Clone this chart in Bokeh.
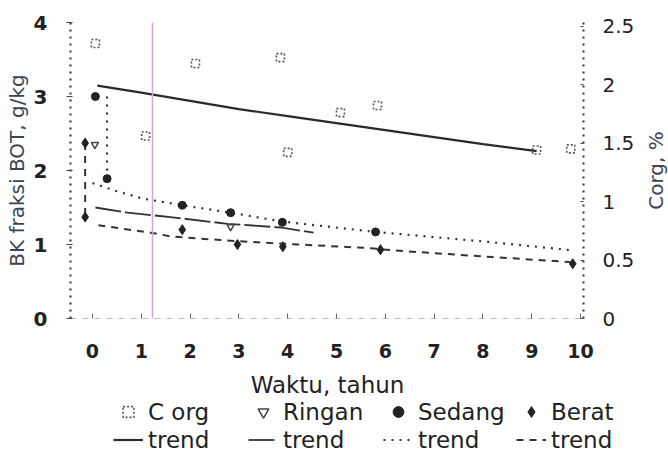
import math
from bokeh.plotting import figure
from bokeh.layouts import column, row
from bokeh.models import (Range1d, LinearAxis, Legend, LegendItem, Span, Label,
                          FixedTicker, NumeralTickFormatter)
from bokeh.embed import file_html
from bokeh.resources import INLINE

# ---------------- data ----------------
x_ticks = [0, 1, 2, 3, 4, 5, 6, 7, 8, 9, 10]
left_ticks = [0, 1, 2, 3, 4]
right_ticks = [0, 0.5, 1, 1.5, 2, 2.5]

# C org, % (right axis)
corg_x = [0.06, 1.09, 2.11, 3.85, 4.0, 5.08, 5.84, 9.1, 9.8]
corg_y = [2.35, 1.56, 2.18, 2.23, 1.42, 1.76, 1.82, 1.44, 1.45]
corg_trend_x = [0.1, 1, 2, 3, 4, 5, 6, 7, 8, 9.1]
corg_trend_y = [1.99, 1.93, 1.86, 1.79, 1.73, 1.67, 1.61, 1.55, 1.49, 1.43]

# Ringan, g/kg
ringan_x = [0.05, 2.83]
ringan_y = [2.35, 1.24]
ringan_trend_x = [0.06, 0.72, 1.6, 2.77, 3.85, 4.53]
ringan_trend_y = [1.50, 1.43, 1.37, 1.28, 1.23, 1.16]

# Sedang, g/kg
sedang_x = [0.06, 0.3, 1.84, 2.83, 3.89, 5.8]
sedang_y = [3.0, 1.89, 1.53, 1.43, 1.30, 1.17]
sedang_link_x = [0.3, 0.3]
sedang_link_y = [3.0, 1.89]
sedang_trend_x = [0.0, 0.45, 1.03, 1.84, 2.83, 3.89, 5.8, 8.2, 9.84]
sedang_trend_y = [1.83, 1.73, 1.62, 1.53, 1.43, 1.31, 1.17, 1.03, 0.92]

# Berat, g/kg
berat_x = [-0.15, -0.15, 1.84, 2.97, 3.9, 5.9, 9.84]
berat_y = [2.37, 1.37, 1.20, 1.00, 0.97, 0.93, 0.74]
berat_link_x = [-0.15, -0.15]
berat_link_y = [2.37, 1.37]
berat_trend_x = [0.12, 1.19, 1.6, 2.62, 3.65, 5.7, 6.17, 8.2, 9.86]
berat_trend_y = [1.26, 1.16, 1.11, 1.06, 1.02, 0.95, 0.92, 0.83, 0.76]

FONT = "DejaVu Sans"
INK = "#222222"
LABEL_INK = "#3d4452"
W = 668
PW = 638          # main figure width; the rest holds the right-hand axis title
PH = 368

# ---------------- styles ----------------
corg_mk = dict(marker="square", size=8, fill_color=None, line_color="#555555",
               line_width=1.6, line_dash="2 2")
ring_mk = dict(marker="inverted_triangle", size=7, fill_color=None,
               line_color="#444444", line_width=1.5)
sed_mk = dict(marker="circle", size=8, fill_color="#222222", line_color="#222222")
ber_mk = dict(marker="diamond", size=10, fill_color="#222222", line_color="#222222")
corg_ln = dict(line_color="#2a2a2a", line_width=2.2)
ring_ln = dict(line_color="#333333", line_width=1.8, line_dash="26 4")
sed_ln = dict(line_color="#333333", line_width=2.2, line_dash="2 6")
ber_ln = dict(line_color="#333333", line_width=2, line_dash="7 6")

# ---------------- main plot ----------------
p = figure(width=PW, height=PH, output_backend="svg", toolbar_location=None,
           title=None, x_range=Range1d(-0.45, 10.06), y_range=Range1d(0, 4),
           min_border_left=70, min_border_right=PW - 583, min_border_top=22,
           min_border_bottom=50)
p.extra_y_ranges = {"corg": Range1d(0, 2.53)}
p.grid.visible = False
p.outline_line_color = None
p.background_fill_color = "white"
p.border_fill_color = "white"

xa = p.xaxis[0]
xa.ticker = FixedTicker(ticks=x_ticks)
xa.axis_line_color = "#bbbbbb"
xa.axis_line_dash = "6 6"
xa.major_tick_in = 5
xa.major_tick_out = 0
xa.major_tick_line_color = "#666666"
xa.minor_tick_line_color = None
xa.major_label_standoff = 25
xa.major_label_text_font = FONT
xa.major_label_text_font_size = "19px"
xa.major_label_text_font_style = "bold"
xa.major_label_text_color = INK

ya = p.yaxis[0]
ya.ticker = FixedTicker(ticks=left_ticks)
ya.axis_label = "BK fraksi BOT, g/kg"
ya.axis_line_color = "#333333"
ya.axis_line_dash = "2 5"
ya.axis_line_width = 2
ya.major_tick_in = 2
ya.major_tick_out = 4
ya.major_tick_line_color = "#444444"
ya.minor_tick_line_color = None
ya.major_label_standoff = 19
ya.axis_label_standoff = 2
ya.major_label_text_font = FONT
ya.major_label_text_font_size = "20px"
ya.major_label_text_font_style = "bold"
ya.major_label_text_color = INK
ya.axis_label_text_font = FONT
ya.axis_label_text_font_size = "20px"
ya.axis_label_text_font_style = "normal"
ya.axis_label_text_color = LABEL_INK

ra = LinearAxis(y_range_name="corg", ticker=FixedTicker(ticks=right_ticks),
                formatter=NumeralTickFormatter(format="0.[0]"))
ra.axis_line_color = "#333333"
ra.axis_line_dash = "2 5"
ra.axis_line_width = 2
ra.major_tick_in = 3
ra.major_tick_out = 0
ra.major_tick_line_color = "#444444"
ra.minor_tick_line_color = None
ra.major_label_standoff = 19
ra.major_label_text_font = FONT
ra.major_label_text_font_size = "20px"
ra.major_label_text_color = INK
p.add_layout(ra, "right")

p.add_layout(Span(location=1.23, dimension="height", line_color="#e4a2da",
                  line_width=1.5))

p.line(corg_trend_x, corg_trend_y, y_range_name="corg", **corg_ln)
p.line(ringan_trend_x, ringan_trend_y, **ring_ln)
p.line(sedang_trend_x, sedang_trend_y, **sed_ln)
p.line(sedang_link_x, sedang_link_y, **sed_ln)
p.line(berat_trend_x, berat_trend_y, **ber_ln)
p.line(berat_link_x, berat_link_y, **ber_ln)

p.scatter(corg_x, corg_y, y_range_name="corg", **corg_mk)
p.scatter(ringan_x, ringan_y, **ring_mk)
p.scatter(sedang_x, sedang_y, **sed_mk)
p.scatter(berat_x, berat_y, **ber_mk)

# ---------------- right-hand axis title (reads bottom-to-top) ----------------
r = figure(width=W - PW, height=PH, output_backend="svg", toolbar_location=None,
           title=None, x_range=Range1d(PW, W), y_range=Range1d(PH, 0),
           min_border=0, x_axis_type=None, y_axis_type=None)
r.frame_align = False
r.grid.visible = False
r.outline_line_color = None
r.border_fill_color = "white"
r.add_layout(Label(x=655, y=170, text="Corg, %", angle=math.pi / 2,
                   text_align="center", text_baseline="middle",
                   text_font=FONT, text_font_size="20px",
                   text_color=LABEL_INK))

# ---------------- x-axis title + legend strip ----------------
q = figure(width=W, height=94, output_backend="svg", toolbar_location=None,
           title=None, x_range=Range1d(0, W), y_range=Range1d(94, 0),
           min_border=0, x_axis_type=None, y_axis_type=None)
q.frame_align = False
q.grid.visible = False
q.outline_line_color = None
q.border_fill_color = "white"

q.add_layout(Label(x=327, y=16, text="Waktu, tahun", text_align="center",
                   text_baseline="middle", text_font=FONT,
                   text_font_size="23px", text_color=INK))

# legend-sample renderers (hidden; they carry the series' styles)
lm_corg = q.scatter(corg_x, corg_y, visible=False, **corg_mk)
lm_ring = q.scatter(ringan_x, ringan_y, visible=False, **ring_mk)
lm_sed = q.scatter(sedang_x, sedang_y, visible=False, **sed_mk)
lm_ber = q.scatter(berat_x, berat_y, visible=False, **ber_mk)
ll_corg = q.line(corg_trend_x, corg_trend_y, visible=False, **corg_ln)
ll_ring = q.line(ringan_trend_x, ringan_trend_y, visible=False, **ring_ln)
ll_sed = q.line(sedang_trend_x, sedang_trend_y, visible=False, **sed_ln)
ll_ber = q.line(berat_trend_x, berat_trend_y, visible=False, **ber_ln)

cols = [
    ("C org", lm_corg, ll_corg, 113),
    ("Ringan", lm_ring, ll_ring, 248),
    ("Sedang", lm_sed, ll_sed, 383),
    ("Berat", lm_ber, ll_ber, 516),
]
for name, rm, rt, xloc in cols:
    lg = Legend(items=[LegendItem(label=name, renderers=[rm]),
                       LegendItem(label="trend", renderers=[rt])],
                location=(xloc, 9), orientation="vertical",
                border_line_color=None, background_fill_alpha=0,
                inactive_fill_alpha=0,
                padding=0, margin=0, spacing=1, glyph_width=30,
                glyph_height=27, label_height=27, label_standoff=5,
                label_text_font=FONT, label_text_font_size="23px",
                label_text_color=INK)
    q.add_layout(lg, "center")

layout = column(row(p, r, spacing=0), q, spacing=0)
open("out.html", "w").write(file_html(layout, INLINE))
